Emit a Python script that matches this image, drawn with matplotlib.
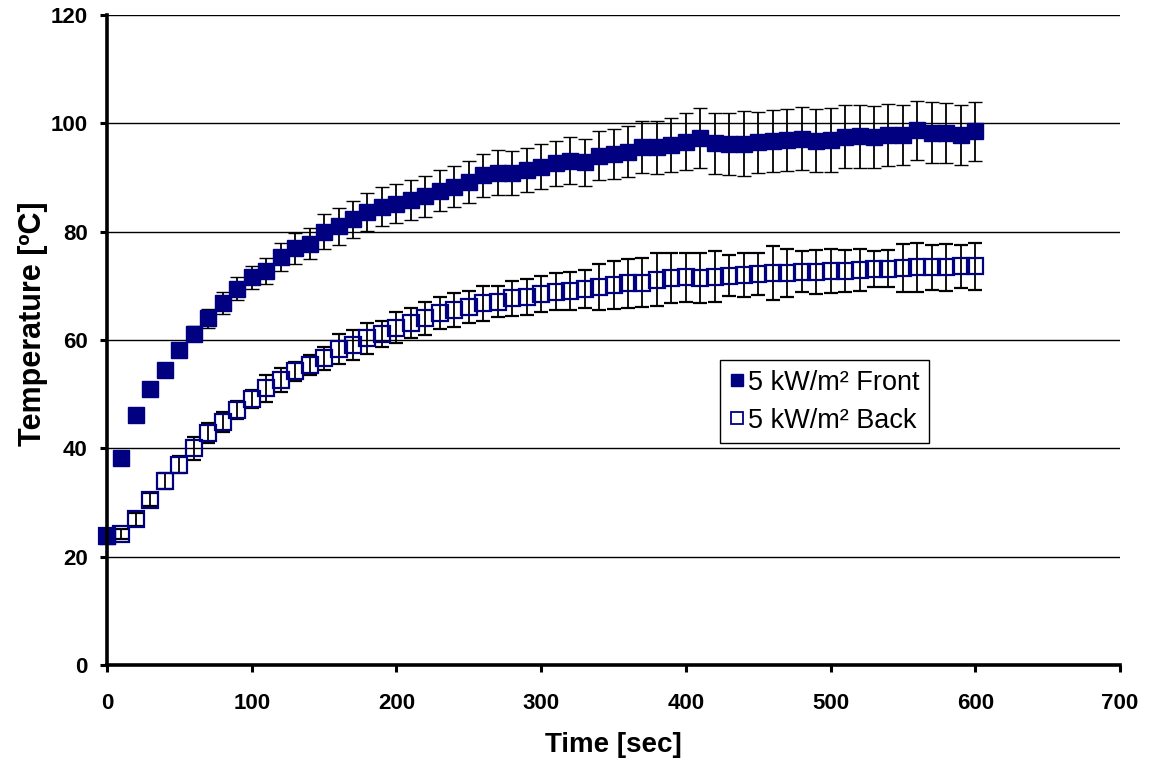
import matplotlib
matplotlib.use("Agg")
import matplotlib.pyplot as plt
from matplotlib.lines import Line2D

time_sec = [0, 10, 20, 30, 40, 50, 60, 70, 80, 90, 100, 110, 120, 130, 140, 150,
            160, 170, 180, 190, 200, 210, 220, 230, 240, 250, 260, 270, 280, 290,
            300, 310, 320, 330, 340, 350, 360, 370, 380, 390, 400, 410, 420, 430,
            440, 450, 460, 470, 480, 490, 500, 510, 520, 530, 540, 550, 560, 570,
            580, 590, 600]

front_temp = [23.8, 38.2, 46.1, 50.9, 54.5, 58.1, 61.2, 64.0, 66.8, 69.5, 71.6,
              72.8, 75.4, 76.9, 77.8, 80.0, 81.0, 82.3, 83.7, 84.6, 85.2, 85.9,
              86.5, 87.6, 88.3, 89.2, 90.4, 90.9, 90.8, 91.4, 92.0, 92.6, 93.1,
              92.8, 94.0, 94.4, 94.8, 95.6, 95.6, 96.0, 96.6, 97.3, 96.3, 96.2,
              96.2, 96.5, 96.8, 96.9, 97.2, 96.8, 97.0, 97.5, 97.6, 97.5, 97.8,
              97.8, 98.7, 98.3, 98.2, 97.8, 98.5]

front_err = [0.5, 0.6, 0.8, 0.9, 1.0, 1.2, 1.4, 1.7, 2.0, 2.1, 2.15, 2.4, 2.6,
             2.9, 2.9, 3.2, 3.4, 3.4, 3.5, 3.6, 3.6, 3.7, 3.7, 3.7, 3.8, 3.9,
             4.0, 4.1, 4.1, 4.1, 4.1, 4.2, 4.3, 4.4, 4.5, 4.6, 4.7, 4.8, 4.9,
             5.0, 5.3, 5.6, 5.7, 5.7, 6.0, 5.6, 5.7, 5.7, 5.8, 5.8, 5.9, 5.8,
             5.75, 5.7, 5.7, 5.5, 5.4, 5.6, 5.5, 5.5, 5.4]

back_temp = [23.8, 24.2, 26.9, 30.5, 34.0, 37.0, 40.0, 42.8, 44.9, 47.1, 49.1,
             51.1, 52.6, 54.2, 55.4, 56.6, 58.3, 59.1, 60.3, 61.2, 62.3, 63.1,
             64.0, 65.0, 65.5, 66.1, 66.8, 67.1, 67.7, 68.0, 68.5, 68.9, 69.0,
             69.4, 69.8, 70.2, 70.5, 70.6, 71.1, 71.4, 71.6, 71.5, 71.7, 71.9,
             72.0, 72.2, 72.3, 72.4, 72.6, 72.6, 72.7, 72.8, 72.9, 73.1, 73.2,
             73.3, 73.4, 73.4, 73.4, 73.6, 73.6]

back_err = [0.5, 0.9, 1.2, 1.2, 1.5, 1.5, 2.1, 1.8, 1.8, 1.6, 1.7, 2.5, 2.2,
            1.8, 1.9, 2.2, 2.8, 2.8, 2.9, 2.4, 2.8, 2.8, 3.1, 3.0, 3.1, 3.0,
            3.2, 2.8, 3.2, 3.3, 3.4, 3.4, 3.5, 3.5, 4.2, 4.4, 4.5, 4.5, 4.9,
            4.6, 4.5, 4.6, 4.7, 3.8, 4.1, 3.8, 5.0, 4.4, 3.8, 4.1, 4.1, 3.9,
            3.85, 3.4, 3.5, 4.4, 4.6, 4.1, 4.3, 4.0, 4.3]

series_labels = ["5 kW/m² Front", "5 kW/m² Back"]
x_ticks = [0, 100, 200, 300, 400, 500, 600, 700]
y_ticks = [0, 20, 40, 60, 80, 100, 120]

plt.rcParams['font.family'] = ['Liberation Sans', 'DejaVu Sans']

navy = '#000080'
fig = plt.figure(figsize=(11.49, 7.67), dpi=100)
ax = fig.add_axes([0.0931, 0.133, 0.8817, 0.8474])

for y in y_ticks[1:]:
    ax.axhline(y, color='black', lw=1.0, zorder=1)

ax.errorbar(time_sec, back_temp, yerr=back_err, fmt='s', ms=11,
            mfc='none', mec=navy, mew=1.6, ecolor='black', elinewidth=1.3,
            capsize=4.8, capthick=1.3, clip_on=False, zorder=3)
ax.errorbar(time_sec, front_temp, yerr=front_err, fmt='s', ms=11,
            mfc=navy, mec=navy, mew=1.0, ecolor='black', elinewidth=1.3,
            capsize=4.8, capthick=1.3, clip_on=False, zorder=4)

ax.set_xlim(0, 700)
ax.set_ylim(0, 120)
ax.set_xticks(x_ticks)
ax.set_yticks(y_ticks)
ax.set_xticklabels([str(v) for v in x_ticks], fontsize=16, fontweight='bold')
ax.set_yticklabels([str(v) for v in y_ticks], fontsize=16, fontweight='bold')
ax.tick_params(axis='both', direction='out', length=5, width=2.2)
ax.tick_params(axis='x', pad=15)
ax.tick_params(axis='y', pad=9)
for s in ['top', 'right']:
    ax.spines[s].set_visible(False)
for s in ['left', 'bottom']:
    ax.spines[s].set_linewidth(2.6)
    ax.spines[s].set_zorder(5)

ax.set_xlabel('Time [sec]', fontsize=20, fontweight='bold', labelpad=13)
ax.set_ylabel('Temperature [ºC]', fontsize=22, fontweight='bold')
ax.yaxis.set_label_coords(-0.058, 0.525)

handles = [Line2D([], [], ls='none', marker='s', ms=8, mfc=navy, mec=navy),
           Line2D([], [], ls='none', marker='s', ms=8, mfc='none', mec=navy, mew=1.3)]
leg = ax.legend(handles, series_labels, loc='upper left',
                bbox_to_anchor=(0.605, 0.469), borderaxespad=0, fontsize=19.5,
                frameon=True, fancybox=False, edgecolor='black', framealpha=1,
                handlelength=0.55, handletextpad=0.15, borderpad=0.35,
                labelspacing=0.45)
leg.get_frame().set_linewidth(1.0)

fig.savefig('out.png', dpi=100)
